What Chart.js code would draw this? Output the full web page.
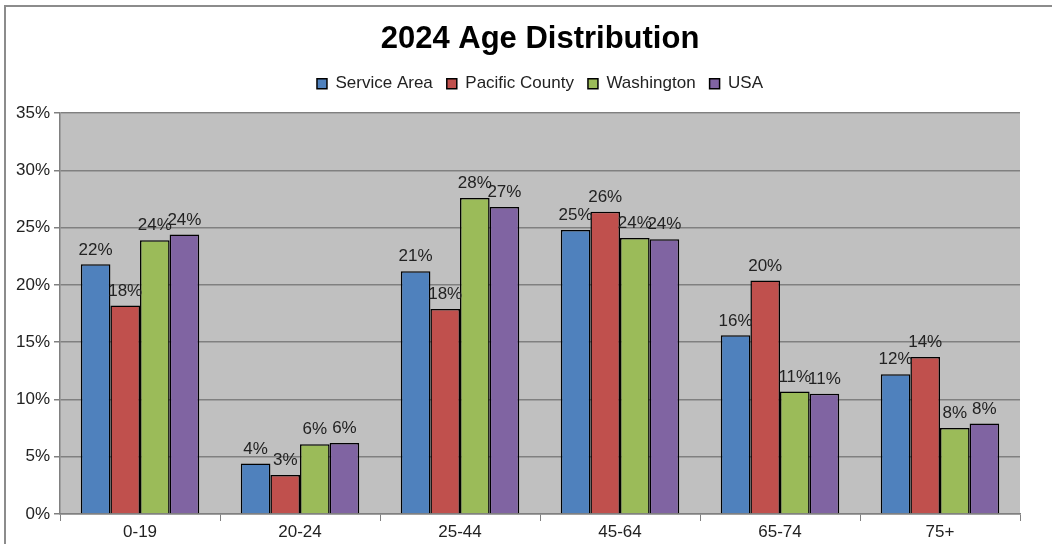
<!DOCTYPE html>
<html>
<head>
<meta charset="utf-8">
<script src="https://cdn.jsdelivr.net/npm/chart.js@4.4.1/dist/chart.umd.min.js"></script>
<style>
  html, body { margin: 0; padding: 0; background: #fff; overflow: hidden; }
  #wrap { position: relative; width: 1052px; height: 544px; }
  #frame { position: absolute; left: 4px; top: 5px; width: 1100px; height: 600px;
           border: 2px solid #8c8c8c; pointer-events: none; }
</style>
</head>
<body>
<div id="wrap">
  <canvas id="ageChart" width="1052" height="544"></canvas>
  <div id="frame"></div>
</div>
<script>
const categories = ["0-19", "20-24", "25-44", "45-64", "65-74", "75+"];
const serviceArea = [21.8, 4.4, 21.2, 24.8, 15.6, 12.2];
const pacificCounty = [18.2, 3.4, 17.9, 26.4, 20.4, 13.7];
const washington = [23.9, 6.1, 27.6, 24.1, 10.7, 7.5];
const usa = [24.4, 6.2, 26.8, 24.0, 10.5, 7.9];
const yTicks = [0, 5, 10, 15, 20, 25, 30, 35];

const FONT = "'Liberation Sans', Arial, sans-serif";

// gray plot area like the old excel chart
const plotBg = {
  id: "plotBg",
  beforeDraw(chart) {
    const a = chart.chartArea;
    const ctx = chart.ctx;
    ctx.save();
    ctx.fillStyle = "#c0c0c0";
    ctx.fillRect(a.left, a.top, a.right - a.left, a.bottom - a.top);
    ctx.restore();
  }
};

// extra room under the legend
const legendGap = {
  id: "legendGap",
  beforeInit(chart) {
    const fit = chart.legend.fit;
    chart.legend.fit = function() {
      fit.bind(chart.legend)();
      this.height += 11;
    };
  }
};

// percent labels over each bar
const barLabels = {
  id: "barLabels",
  afterDatasetsDraw(chart) {
    const ctx = chart.ctx;
    ctx.save();
    ctx.font = "17px " + FONT;
    ctx.fillStyle = "#222";
    ctx.textAlign = "center";
    ctx.textBaseline = "bottom";
    chart.data.datasets.forEach((ds, i) => {
      chart.getDatasetMeta(i).data.forEach((bar, j) => {
        ctx.fillText(Math.round(ds.data[j]) + "%", bar.x, bar.y - 6);
      });
    });
    ctx.restore();
  }
};

const makeSet = (label, data, color) => ({
  label: label,
  data: data,
  backgroundColor: color,
  borderColor: "#000",
  borderWidth: 1.5,
  borderSkipped: "bottom"
});

new Chart(document.getElementById("ageChart").getContext("2d"), {
  type: "bar",
  data: {
    labels: categories,
    datasets: [
      makeSet("Service Area", serviceArea, "#4f81bd"),
      makeSet("Pacific County", pacificCounty, "#c0504d"),
      makeSet("Washington", washington, "#9bbb59"),
      makeSet("USA", usa, "#8064a2")
    ]
  },
  options: {
    responsive: false,
    animation: false,
    layout: { padding: { left: 12, right: 32, top: 0, bottom: 0 } },
    datasets: { bar: { categoryPercentage: 0.74, barPercentage: 1 } },
    plugins: {
      title: {
        display: true,
        fullSize: false,
        text: "2024 Age Distribution",
        color: "#000",
        font: { family: FONT, size: 31, weight: "bold" },
        padding: { top: 21, bottom: 3 }
      },
      legend: {
        position: "top",
        fullSize: false,
        labels: {
          color: "#222",
          font: { family: FONT, size: 17 },
          boxWidth: 10,
          boxHeight: 10,
          padding: 14
        }
      },
      tooltip: { enabled: false }
    },
    scales: {
      x: {
        grid: { offset: true, drawOnChartArea: false, color: "#808080", tickLength: 7 },
        border: { color: "#808080", width: 1.5 },
        ticks: { color: "#222", font: { family: FONT, size: 17, lineHeight: 1 }, padding: 3 }
      },
      y: {
        min: 0,
        max: 35,
        afterBuildTicks(axis) { axis.ticks = yTicks.map(v => ({ value: v })); },
        grid: { color: "#808080", lineWidth: 1.5, tickLength: 6 },
        border: { color: "#808080", width: 1.5 },
        ticks: { color: "#222", font: { family: FONT, size: 17 }, padding: 4,
                 callback: v => v + "%" }
      }
    }
  },
  plugins: [plotBg, legendGap, barLabels]
});
</script>
</body>
</html>
